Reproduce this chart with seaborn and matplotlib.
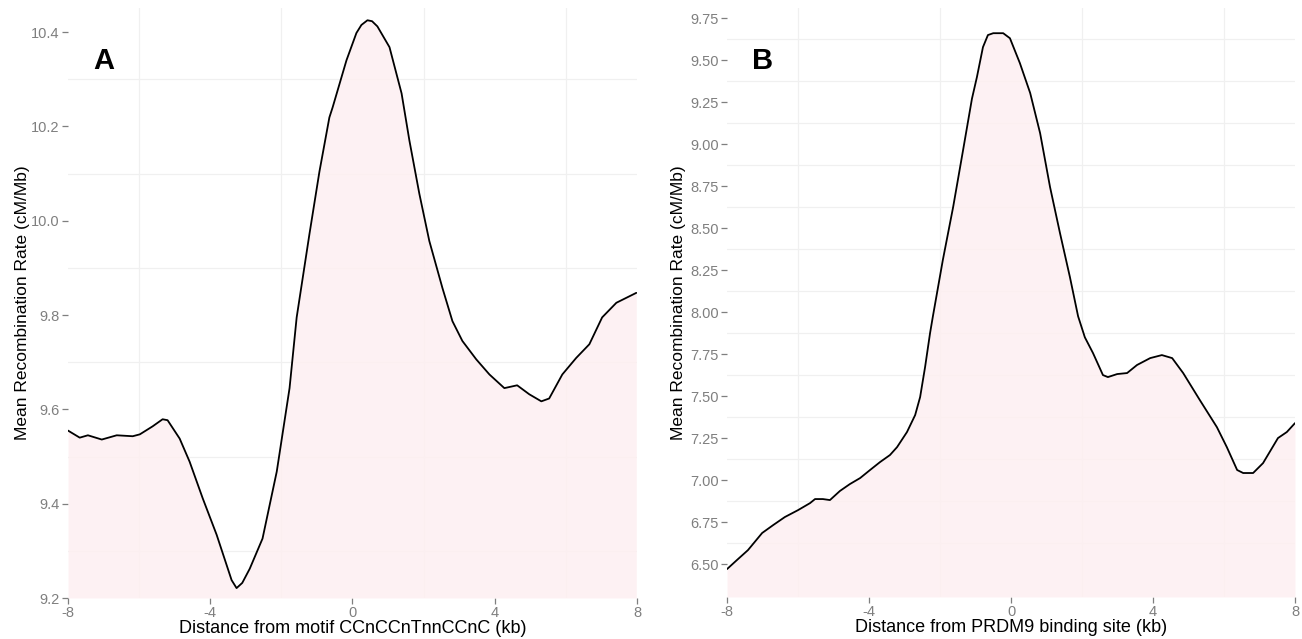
import numpy as np
import pandas as pd
import matplotlib
matplotlib.use("Agg")
import matplotlib.pyplot as plt
from matplotlib.ticker import FixedLocator
import seaborn as sns

# ---- Data: panel A (motif CCnCCnTnnCCnC) ----
a_x = [-8.00, -7.67, -7.44, -7.05, -6.63, -6.18, -5.98, -5.62, -5.34, -5.20, -4.86, -4.58,
       -4.21, -3.82, -3.54, -3.40, -3.26, -3.10, -2.89, -2.53, -2.13, -1.77, -1.57, -1.21,
       -0.93, -0.65, -0.56, -0.17, 0.11, 0.25, 0.42, 0.55, 0.70, 1.04, 1.38, 1.60, 1.88,
       2.16, 2.53, 2.81, 3.09, 3.48, 3.85, 4.27, 4.63, 4.97, 5.31, 5.53, 5.90, 6.29, 6.66,
       7.02, 7.42, 7.98]
a_y = [9.555, 9.540, 9.545, 9.536, 9.545, 9.543, 9.547, 9.564, 9.579, 9.577, 9.538, 9.489,
       9.411, 9.334, 9.270, 9.238, 9.221, 9.232, 9.262, 9.326, 9.468, 9.645, 9.795, 9.972,
       10.104, 10.219, 10.24, 10.34, 10.398, 10.415, 10.425, 10.423, 10.412, 10.368, 10.27,
       10.17, 10.057, 9.957, 9.857, 9.787, 9.745, 9.706, 9.674, 9.645, 9.651, 9.632, 9.617,
       9.623, 9.674, 9.709, 9.738, 9.795, 9.826, 9.847]

# ---- Data: panel B (PRDM9 binding site) ----
b_x = [-8.00, -7.72, -7.41, -7.01, -6.70, -6.37, -6.00, -5.66, -5.52, -5.30, -5.10, -4.82,
       -4.54, -4.25, -3.97, -3.69, -3.41, -3.21, -2.93, -2.70, -2.56, -2.42, -2.28, -2.20,
       -1.92, -1.63, -1.35, -1.10, -0.96, -0.79, -0.65, -0.50, -0.22, -0.03, 0.25, 0.54,
       0.82, 1.10, 1.38, 1.66, 1.89, 2.08, 2.31, 2.59, 2.73, 2.99, 3.27, 3.55, 3.92, 4.25,
       4.54, 4.85, 5.32, 5.80, 6.08, 6.37, 6.54, 6.82, 7.10, 7.52, 7.77, 8.00]
b_y = [6.47, 6.524, 6.583, 6.685, 6.732, 6.78, 6.821, 6.863, 6.887, 6.887, 6.881, 6.935,
       6.976, 7.012, 7.06, 7.107, 7.149, 7.196, 7.286, 7.387, 7.494, 7.673, 7.875, 7.975,
       8.31, 8.625, 8.964, 9.27, 9.399, 9.577, 9.649, 9.66, 9.66, 9.63, 9.482, 9.304,
       9.065, 8.744, 8.47, 8.208, 7.975, 7.85, 7.756, 7.625, 7.613, 7.631, 7.637, 7.685,
       7.726, 7.744, 7.726, 7.637, 7.476, 7.315, 7.196, 7.06, 7.042, 7.042, 7.101, 7.25,
       7.286, 7.339]

a_yticks = [9.2, 9.4, 9.6, 9.8, 10.0, 10.2, 10.4]
a_ylabels = ["9.2", "9.4", "9.6", "9.8", "10.0", "10.2", "10.4"]
b_yticks = [6.50, 6.75, 7.00, 7.25, 7.50, 7.75, 8.00, 8.25, 8.50, 8.75, 9.00, 9.25, 9.50, 9.75]
b_ylabels = ["%.2f" % v for v in b_yticks]
x_ticks = [-8, -4, 0, 4, 8]
x_labels = ["-8", "-4", "0", "4", "8"]

xlabel_a = "Distance from motif CCnCCnTnnCCnC (kb)"
xlabel_b = "Distance from PRDM9 binding site (kb)"
ylabel = "Mean Recombination Rate (cM/Mb)"

sns.set_theme(style="white")
plt.rcParams['font.family'] = ['Liberation Sans', 'DejaVu Sans']

fig = plt.figure(figsize=(13.02, 6.39), dpi=100)
axA = fig.add_axes([68/1302, 1-598/639, (637-68)/1302, (598-8)/639])
axB = fig.add_axes([727/1302, 1-597/639, (1295-727)/1302, (597-8)/639])

fill_col = "#FDEFF1"
grid_col = "#F0F0F0"
tick_col = "#7F7F7F"

panels = [
    (axA, a_x, a_y, (9.2, 10.451), a_yticks, a_ylabels, 0.1, xlabel_a, "A", (-7.0, 10.338), 1),
    (axB, b_x, b_y, (6.304, 9.81), b_yticks, b_ylabels, 0.125, xlabel_b, "B", (-7.0, 9.494), 3),
]

for ax, xs, ys, ylim, yt, ytl, yminor, xl, letter, lpos, lp in panels:
    df = pd.DataFrame({"x": xs, "y": ys})
    ax.fill_between(df["x"], df["y"], ylim[0], color=fill_col, alpha=0.85, lw=0, zorder=1)
    sns.lineplot(data=df, x="x", y="y", ax=ax, color="black", lw=1.3, zorder=3)
    ax.set_xlim(-8, 8)
    ax.set_ylim(*ylim)
    ax.set_xticks(x_ticks)
    ax.set_xticklabels(x_labels)
    ax.set_yticks(yt)
    ax.set_yticklabels(ytl)
    ax.xaxis.set_minor_locator(FixedLocator([-6, -2, 2, 6]))
    ymin_lines = [v + yminor for v in yt]
    ymin_lines = [v for v in ymin_lines if ylim[0] < v < ylim[1]]
    ax.yaxis.set_minor_locator(FixedLocator(ymin_lines))
    ax.grid(False, which="major")
    ax.grid(True, which="minor", color=grid_col, lw=0.9, zorder=0)
    ax.set_axisbelow(True)
    for s in ax.spines.values():
        s.set_visible(False)
    ax.tick_params(axis="both", which="major", length=4, width=0.9, color=tick_col,
                   labelcolor=tick_col, labelsize=10.5, pad=2, left=True, bottom=True)
    ax.tick_params(axis="both", which="minor", length=0)
    ax.set_xlabel(xl, fontsize=13, color="black", labelpad=0)
    ax.set_ylabel(ylabel, fontsize=12.5, color="black", labelpad=lp)
    ax.text(lpos[0], lpos[1], letter, fontsize=21, fontweight="bold", ha="center",
            va="center", color="black", zorder=4)

fig.savefig("out.png", dpi=100, facecolor="white")
